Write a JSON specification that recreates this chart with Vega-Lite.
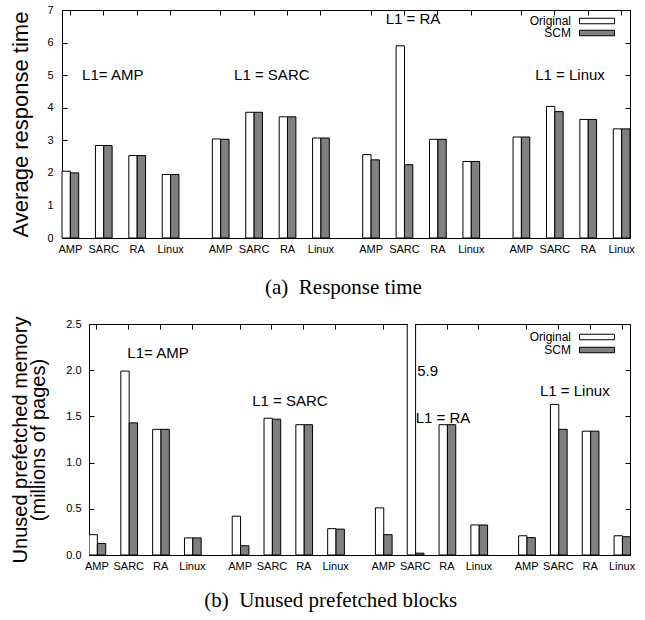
{
  "$schema": "https://vega.github.io/schema/vega-lite/v6.json",
  "padding": {"left": 9, "top": 4, "right": 5, "bottom": 5},
  "datasets": {
    "resp": [
      {"key": "AMP|AMP", "series": "Original", "value": 2.05},
      {"key": "AMP|AMP", "series": "SCM", "value": 2.0},
      {"key": "AMP|SARC", "series": "Original", "value": 2.84},
      {"key": "AMP|SARC", "series": "SCM", "value": 2.84},
      {"key": "AMP|RA", "series": "Original", "value": 2.53},
      {"key": "AMP|RA", "series": "SCM", "value": 2.53},
      {"key": "AMP|Linux", "series": "Original", "value": 1.95},
      {"key": "AMP|Linux", "series": "SCM", "value": 1.95},
      {"key": "SARC|AMP", "series": "Original", "value": 3.04},
      {"key": "SARC|AMP", "series": "SCM", "value": 3.03},
      {"key": "SARC|SARC", "series": "Original", "value": 3.86},
      {"key": "SARC|SARC", "series": "SCM", "value": 3.86},
      {"key": "SARC|RA", "series": "Original", "value": 3.72},
      {"key": "SARC|RA", "series": "SCM", "value": 3.72},
      {"key": "SARC|Linux", "series": "Original", "value": 3.07},
      {"key": "SARC|Linux", "series": "SCM", "value": 3.07},
      {"key": "RA|AMP", "series": "Original", "value": 2.56},
      {"key": "RA|AMP", "series": "SCM", "value": 2.4},
      {"key": "RA|SARC", "series": "Original", "value": 5.9},
      {"key": "RA|SARC", "series": "SCM", "value": 2.25},
      {"key": "RA|RA", "series": "Original", "value": 3.03},
      {"key": "RA|RA", "series": "SCM", "value": 3.03},
      {"key": "RA|Linux", "series": "Original", "value": 2.35},
      {"key": "RA|Linux", "series": "SCM", "value": 2.35},
      {"key": "Linux|AMP", "series": "Original", "value": 3.1},
      {"key": "Linux|AMP", "series": "SCM", "value": 3.1},
      {"key": "Linux|SARC", "series": "Original", "value": 4.04},
      {"key": "Linux|SARC", "series": "SCM", "value": 3.88},
      {"key": "Linux|RA", "series": "Original", "value": 3.64},
      {"key": "Linux|RA", "series": "SCM", "value": 3.64},
      {"key": "Linux|Linux", "series": "Original", "value": 3.35},
      {"key": "Linux|Linux", "series": "SCM", "value": 3.35}
    ],
    "unused": [
      {"key": "AMP|AMP", "series": "Original", "value": 0.22},
      {"key": "AMP|AMP", "series": "SCM", "value": 0.125},
      {"key": "AMP|SARC", "series": "Original", "value": 1.99},
      {"key": "AMP|SARC", "series": "SCM", "value": 1.43},
      {"key": "AMP|RA", "series": "Original", "value": 1.36},
      {"key": "AMP|RA", "series": "SCM", "value": 1.36},
      {"key": "AMP|Linux", "series": "Original", "value": 0.185},
      {"key": "AMP|Linux", "series": "SCM", "value": 0.185},
      {"key": "SARC|AMP", "series": "Original", "value": 0.42},
      {"key": "SARC|AMP", "series": "SCM", "value": 0.1},
      {"key": "SARC|SARC", "series": "Original", "value": 1.48},
      {"key": "SARC|SARC", "series": "SCM", "value": 1.47},
      {"key": "SARC|RA", "series": "Original", "value": 1.41},
      {"key": "SARC|RA", "series": "SCM", "value": 1.41},
      {"key": "SARC|Linux", "series": "Original", "value": 0.285},
      {"key": "SARC|Linux", "series": "SCM", "value": 0.28},
      {"key": "RA|AMP", "series": "Original", "value": 0.51},
      {"key": "RA|AMP", "series": "SCM", "value": 0.22},
      {"key": "RA|SARC", "series": "Original", "value": 5.9},
      {"key": "RA|SARC", "series": "SCM", "value": 0.02},
      {"key": "RA|RA", "series": "Original", "value": 1.41},
      {"key": "RA|RA", "series": "SCM", "value": 1.41},
      {"key": "RA|Linux", "series": "Original", "value": 0.325},
      {"key": "RA|Linux", "series": "SCM", "value": 0.325},
      {"key": "Linux|AMP", "series": "Original", "value": 0.208},
      {"key": "Linux|AMP", "series": "SCM", "value": 0.188},
      {"key": "Linux|SARC", "series": "Original", "value": 1.63},
      {"key": "Linux|SARC", "series": "SCM", "value": 1.36},
      {"key": "Linux|RA", "series": "Original", "value": 1.34},
      {"key": "Linux|RA", "series": "SCM", "value": 1.34},
      {"key": "Linux|Linux", "series": "Original", "value": 0.208},
      {"key": "Linux|Linux", "series": "SCM", "value": 0.198}
    ]
  },
  "config": {
    "font": "Liberation Sans",
    "view": {"stroke": "black", "strokeWidth": 1},
    "axis": {"labelColor": "black", "tickColor": "black", "domainColor": "black", "domainWidth": 1, "labelFont": "Liberation Sans", "titleFont": "Liberation Sans", "titleFontWeight": "normal", "titleColor": "black", "grid": false, "domain": false},
    "text": {"font": "Liberation Sans", "fontSize": 15, "color": "black"},
    "legend": {"padding": 0}
  },
  "spacing": 17,
  "resolve": {"scale": {"fill": "independent"}},
  "vconcat": [
    {
      "width": 541,
      "height": 228,
      "view": {"stroke": null},
      "title": {"text": "(a)\u00a0 Response time", "orient": "bottom", "font": "Liberation Serif", "fontSize": 21, "fontWeight": "normal", "color": "black", "anchor": "middle", "frame": "bounds", "offset": 23, "dx": 10},
      "resolve": {"axis": {"x": "independent", "y": "independent"}},
      "layer": [
        {
          "data": {"name": "resp"},
          "mark": {"type": "bar", "stroke": "black", "strokeWidth": 1},
          "encoding": {
            "x": {"field": "key", "type": "nominal",
              "scale": {"domain": ["AMP|AMP","gap1","AMP|SARC","gap2","AMP|RA","gap3","AMP|Linux","gap4","gap5","SARC|AMP","gap6","SARC|SARC","gap7","SARC|RA","gap8","SARC|Linux","gap9","gap10","RA|AMP","gap11","RA|SARC","gap12","RA|RA","gap13","RA|Linux","gap14","gap15","Linux|AMP","gap16","Linux|SARC","gap17","Linux|RA","gap18","Linux|Linux"], "range": [-27, 541], "paddingInner": 0, "paddingOuter": 0},
              "axis": {"orient": "bottom", "domain": true, "values": ["AMP|AMP","AMP|SARC","AMP|RA","AMP|Linux","SARC|AMP","SARC|SARC","SARC|RA","SARC|Linux","RA|AMP","RA|SARC","RA|RA","RA|Linux","Linux|AMP","Linux|SARC","Linux|RA","Linux|Linux"], "labelExpr": "split(datum.value, '|')[1]", "labelAngle": 0, "labelFontSize": 11, "tickSize": 0, "labelPadding": 5, "title": null}},
            "xOffset": {"field": "series", "type": "nominal", "scale": {"domain": ["Original", "SCM"], "paddingInner": 0, "paddingOuter": 0}},
            "y": {"field": "value", "type": "quantitative", "scale": {"domain": [0, 7], "nice": false},
              "axis": {"orient": "left", "offset": 27, "domain": true, "values": [0,1,2,3,4,5,6,7], "tickSize": -5, "labelFontSize": 11, "labelPadding": 14, "title": "Average response time", "titleFontSize": 22, "titlePadding": 14}},
            "fill": {"field": "series", "type": "nominal", "scale": {"domain": ["Original", "SCM"], "range": ["#ffffff", "#808080"]},
              "legend": {"orient": "none", "legendX": 420, "legendY": 5, "title": null, "symbolType": "M21.5,-0.917H33.17V0.917H21.5Z", "symbolSize": 36, "symbolStrokeColor": "black", "symbolStrokeWidth": 1, "symbolOpacity": 1, "labelAlign": "right", "labelOffset": 50, "labelFontSize": 12, "labelColor": "black", "rowPadding": -1}}
          }
        },
        {
          "data": {"values": [{}]},
          "mark": {"type": "text", "dx": 9},
          "encoding": {
            "x": {"datum": "AMP|SARC", "type": "nominal", "axis": {"orient": "top", "domain": true, "values": ["AMP|AMP","AMP|SARC","AMP|RA","AMP|Linux","SARC|AMP","SARC|SARC","SARC|RA","SARC|Linux","RA|AMP","RA|SARC","RA|RA","RA|Linux","Linux|AMP","Linux|SARC","Linux|RA","Linux|Linux"], "labels": false, "tickSize": -5, "title": null}},
            "y": {"datum": 5, "type": "quantitative", "axis": {"orient": "right", "domain": true, "values": [0,1,2,3,4,5,6,7], "labels": false, "tickSize": -5, "title": null}},
            "text": {"value": "L1= AMP"}
          }
        },
        {
          "data": {"values": [{}]},
          "mark": {"type": "text", "dx": 1},
          "encoding": {
            "x": {"datum": "gap7", "type": "nominal", "axis": null},
            "y": {"datum": 5, "type": "quantitative", "axis": null},
            "text": {"value": "L1 = SARC"}
          }
        },
        {
          "data": {"values": [{}]},
          "mark": {"type": "text", "dx": 8.5},
          "encoding": {
            "x": {"datum": "RA|SARC", "type": "nominal", "axis": null},
            "y": {"datum": 6.72, "type": "quantitative", "axis": null},
            "text": {"value": "L1 = RA"}
          }
        },
        {
          "data": {"values": [{}]},
          "mark": {"type": "text", "dx": -1.5},
          "encoding": {
            "x": {"datum": "gap17", "type": "nominal", "axis": null},
            "y": {"datum": 5, "type": "quantitative", "axis": null},
            "text": {"value": "L1 = Linux"}
          }
        }
      ]
    },
    {
      "width": 541,
      "height": 231,
      "title": {"text": "(b)\u00a0 Unused prefetched blocks", "orient": "bottom", "font": "Liberation Serif", "fontSize": 21, "fontWeight": "normal", "color": "black", "anchor": "middle", "frame": "bounds", "offset": 19, "dx": 8},
      "resolve": {"axis": {"x": "independent", "y": "independent"}},
      "layer": [
        {
          "data": {"name": "unused"},
          "mark": {"type": "bar", "stroke": "black", "strokeWidth": 1, "clip": true},
          "encoding": {
            "x": {"field": "key", "type": "nominal",
              "scale": {"domain": ["AMP|AMP","gap1","AMP|SARC","gap2","AMP|RA","gap3","AMP|Linux","gap4","gap5","SARC|AMP","gap6","SARC|SARC","gap7","SARC|RA","gap8","SARC|Linux","gap9","gap10","RA|AMP","gap11","RA|SARC","gap12","RA|RA","gap13","RA|Linux","gap14","gap15","Linux|AMP","gap16","Linux|SARC","gap17","Linux|RA","gap18","Linux|Linux"], "paddingInner": 0, "paddingOuter": 0},
              "axis": {"orient": "bottom", "values": ["AMP|AMP","AMP|SARC","AMP|RA","AMP|Linux","SARC|AMP","SARC|SARC","SARC|RA","SARC|Linux","RA|AMP","RA|SARC","RA|RA","RA|Linux","Linux|AMP","Linux|SARC","Linux|RA","Linux|Linux"], "labelExpr": "split(datum.value, '|')[1]", "labelAngle": 0, "labelFontSize": 11, "tickSize": 0, "labelPadding": 5, "title": null}},
            "xOffset": {"field": "series", "type": "nominal", "scale": {"domain": ["Original", "SCM"], "paddingInner": 0, "paddingOuter": 0}},
            "y": {"field": "value", "type": "quantitative", "scale": {"domain": [0, 2.5], "nice": false},
              "axis": {"orient": "left", "values": [0,0.5,1,1.5,2,2.5], "tickSize": -5, "labelFontSize": 11, "labelPadding": 13, "title": ["Unused prefetched memory", "(millions of pages)"], "titleFontSize": 20, "titleLineHeight": 18, "titlePadding": 17}},
            "fill": {"field": "series", "type": "nominal", "scale": {"domain": ["Original", "SCM"], "range": ["#ffffff", "#808080"]},
              "legend": {"orient": "none", "legendX": 420, "legendY": 7, "title": null, "symbolType": "M21.5,-0.917H33.17V0.917H21.5Z", "symbolSize": 36, "symbolStrokeColor": "black", "symbolStrokeWidth": 1, "symbolOpacity": 1, "labelAlign": "right", "labelOffset": 50, "labelFontSize": 12, "labelColor": "black", "rowPadding": 1}}
          }
        },
        {
          "data": {"values": [{}]},
          "mark": {"type": "text", "dx": -2.6},
          "encoding": {
            "x": {"datum": "AMP|RA", "type": "nominal", "axis": {"orient": "top", "values": ["AMP|AMP","AMP|SARC","AMP|RA","AMP|Linux","SARC|AMP","SARC|SARC","SARC|RA","SARC|Linux","RA|AMP","RA|SARC","RA|RA","RA|Linux","Linux|AMP","Linux|SARC","Linux|RA","Linux|Linux"], "labels": false, "tickSize": -5, "title": null}},
            "y": {"datum": 2.19, "type": "quantitative", "axis": {"orient": "right", "values": [0,0.5,1,1.5,2,2.5], "labels": false, "tickSize": -5, "title": null}},
            "text": {"value": "L1= AMP"}
          }
        },
        {
          "data": {"values": [{}]},
          "mark": {"type": "text", "dx": 2},
          "encoding": {
            "x": {"datum": "gap7", "type": "nominal", "axis": null},
            "y": {"datum": 1.67, "type": "quantitative", "axis": null},
            "text": {"value": "L1 = SARC"}
          }
        },
        {
          "data": {"values": [{}]},
          "mark": {"type": "text", "dx": -4},
          "encoding": {
            "x": {"datum": "RA|RA", "type": "nominal", "axis": null},
            "y": {"datum": 1.48, "type": "quantitative", "axis": null},
            "text": {"value": "L1 = RA"}
          }
        },
        {
          "data": {"values": [{}]},
          "mark": {"type": "text", "dx": 0.5},
          "encoding": {
            "x": {"datum": "gap17", "type": "nominal", "axis": null},
            "y": {"datum": 1.77, "type": "quantitative", "axis": null},
            "text": {"value": "L1 = Linux"}
          }
        },
        {
          "data": {"values": [{}]},
          "mark": {"type": "text", "align": "left", "dx": 2},
          "encoding": {
            "x": {"datum": "RA|SARC", "type": "nominal", "axis": null},
            "y": {"datum": 1.99, "type": "quantitative", "axis": null},
            "text": {"value": "5.9"}
          }
        }
      ]
    }
  ]
}
